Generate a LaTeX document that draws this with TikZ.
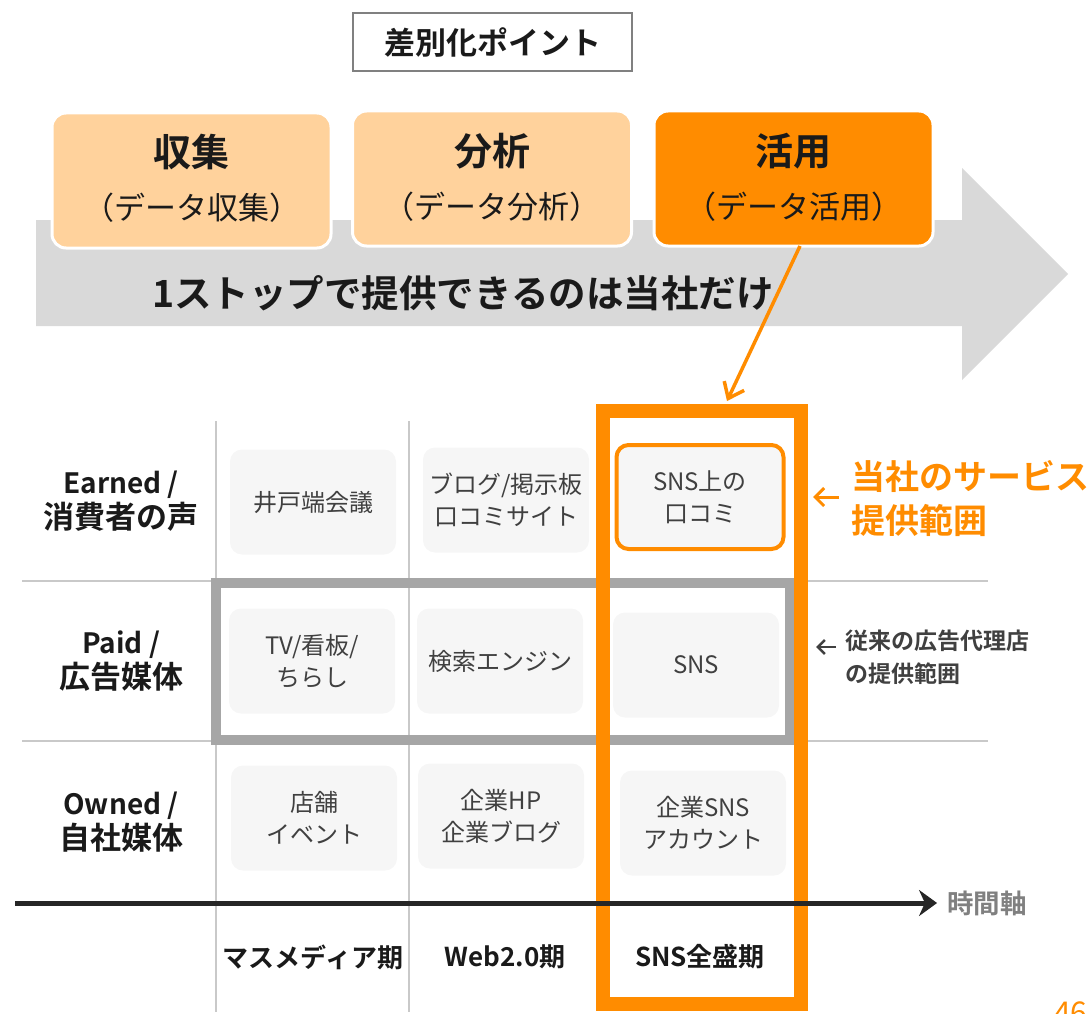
\documentclass[tikz,border=0pt]{standalone}
\usepackage{fontspec}
\setmainfont{Noto Sans CJK JP}[BoldFont={Noto Sans CJK JP Bold}]
\usetikzlibrary{arrows.meta}
\definecolor{org}{HTML}{FF8C00}
\definecolor{lorg}{HTML}{FFD29C}
\definecolor{bigarrow}{HTML}{D9D9D9}
\definecolor{gridc}{HTML}{C9C9C9}
\definecolor{cellc}{HTML}{F6F6F6}
\definecolor{txt}{HTML}{404040}
\definecolor{dark}{HTML}{1A1A1A}
\newcommand{\fsz}[2]{\fontsize{#1}{#2}\selectfont}
\tikzset{
  stage/.style={rounded corners=14, draw=white, line width=3, minimum width=279, minimum height=135, inner sep=0},
  bigt/.style={font={\bfseries\fsz{38}{40}}, text=dark, inner sep=0},
  subt/.style={font={\fsz{31}{33}}, text=dark, inner sep=0},
  cell/.style={fill=cellc, rounded corners=12, minimum width=166, minimum height=105, inner sep=0, text=txt, align=center, font={\fsz{24}{32}}},
  rowlab/.style={font={\bfseries\fsz{28}{35}}, text=dark, align=center, inner sep=0},
  period/.style={font={\bfseries\fsz{26}{28}}, text=dark, inner sep=0},
  gridline/.style={draw=gridc, line width=2.5},
}
\begin{document}
\begin{tikzpicture}[x=1pt, y=-1pt]
\useasboundingbox (0,0) rectangle (1092,1014);
% title
\node[draw=black!50, line width=1.5, minimum width=279, minimum height=58, inner sep=0, font={\bfseries\fsz{31}{32}}, text=dark] (title) at (492.5,42) {差別化ポイント};
% big gray arrow
\fill[bigarrow] (36,220) -- (962,220) -- (962,168) -- (1068,274) -- (962,380) -- (962,326) -- (36,326) -- cycle;
% stages
\node[stage, fill=lorg] (s1) at (191.5,180.5) {};
\node[stage, fill=lorg] (s2) at (492,178.5) {};
\node[stage, fill=org] (s3) at (793.5,178.5) {};
\node[bigt] (s1a) at (191.5,152) {収集};
\node[subt] (s1b) at (191.5,208) {（データ収集）};
\node[bigt] (s2a) at (492,151) {分析};
\node[subt] (s2b) at (492,207) {（データ分析）};
\node[bigt] (s3a) at (793.5,151) {活用};
\node[subt] (s3b) at (793.5,207) {（データ活用）};
\node[font={\bfseries\fsz{37.5}{40}}, text=dark, inner sep=0] (one) at (463,293) {1ストップで提供できるのは当社だけ};
% grid lines
\coordinate (v1t) at (216,421); \coordinate (v1b) at (216,1012);
\coordinate (v2t) at (409,421); \coordinate (v2b) at (409,1012);
\coordinate (h1l) at (22,581); \coordinate (h1r) at (988,581);
\coordinate (h2l) at (22,741); \coordinate (h2r) at (988,741);
\draw[gridline] (v1t) -- (v1b);
\draw[gridline] (v2t) -- (v2b);
\draw[gridline] (h1l) -- (h1r);
\draw[gridline] (h2l) -- (h2r);
% cells
\node[cell] (c11) at (313,502) {井戸端会議};
\node[cell] (c12) at (506,500) {ブログ/掲示板\\口コミサイト};
\node[cell, draw=org, line width=4, minimum width=167, minimum height=104] (c13) at (700,497) {SNS上の\\口コミ};
\node[cell] (c21) at (312,661) {TV/看板/\\ちらし};
\node[cell] (c22) at (500,661) {検索エンジン};
\node[cell] (c23) at (696,665) {SNS};
\node[cell] (c31) at (314,818) {店舗\\イベント};
\node[cell] (c32) at (501,816) {企業HP\\企業ブログ};
\node[cell] (c33) at (703,823) {企業SNS\\アカウント};
% gray frame
\node[draw=black!35, line width=10, minimum width=574, minimum height=157, inner sep=0] (paidbox) at (503,661.5) {};
% orange frame
\node[draw=org, line width=14, minimum width=198, minimum height=593, inner sep=0] (snsbox) at (702,707.5) {};
% orange arrow from stage 3
\coordinate (oa) at (800,246);
\coordinate (ob) at (727,401);
\draw[org, line width=3.5, -{Straight Barb[length=14, width=22]}] (oa) -- (ob);
% row labels
\node[rowlab] (r1) at (121,501) {Earned /\\{\fsz{31}{35}消費者の声}};
\node[rowlab] (r2) at (121,661) {Paid /\\{\fsz{31}{35}広告媒体}};
\node[rowlab] (r3) at (121,822) {Owned /\\{\fsz{31}{35}自社媒体}};
% time axis
\node[font={\bfseries\fsz{26.5}{28}}, text=black!50, inner sep=0] (tl) at (987,903) {時間軸};
\coordinate (t0) at (15,903);
\draw[draw=black!85, line width=5, -{Stealth[length=18, width=26]}] (t0) -- ([xshift=-10]tl.west);
% periods
\node[period] (p1) at (313,957) {マスメディア期};
\node[period] (p2) at (505,957) {Web2.0期};
\node[period] (p3) at (700,957) {SNS全盛期};
% right labels
\node[font={\bfseries\fsz{34}{44}}, text=org, align=left, anchor=west, inner sep=0] (our) at (851,499) {当社のサービス\\提供範囲};
\draw[org, line width=3, -{Straight Barb[length=9, width=18]}] ([xshift=-12]our.west |- 0,497) -- ++(-26,0);
\node[font={\bfseries\fsz{23}{33}}, text=txt, align=left, anchor=west, inner sep=0] (agency) at (845,657) {従来の広告代理店\\の提供範囲};
\draw[txt, line width=2.5, -{Straight Barb[length=7, width=14]}] ([xshift=-9]agency.west |- 0,647) -- ++(-20,0);
% page number
\node[font={\fsz{30}{32}}, text=org, anchor=north west, inner sep=0] (pg) at (1054,1002) {46};
\end{tikzpicture}
\end{document}
